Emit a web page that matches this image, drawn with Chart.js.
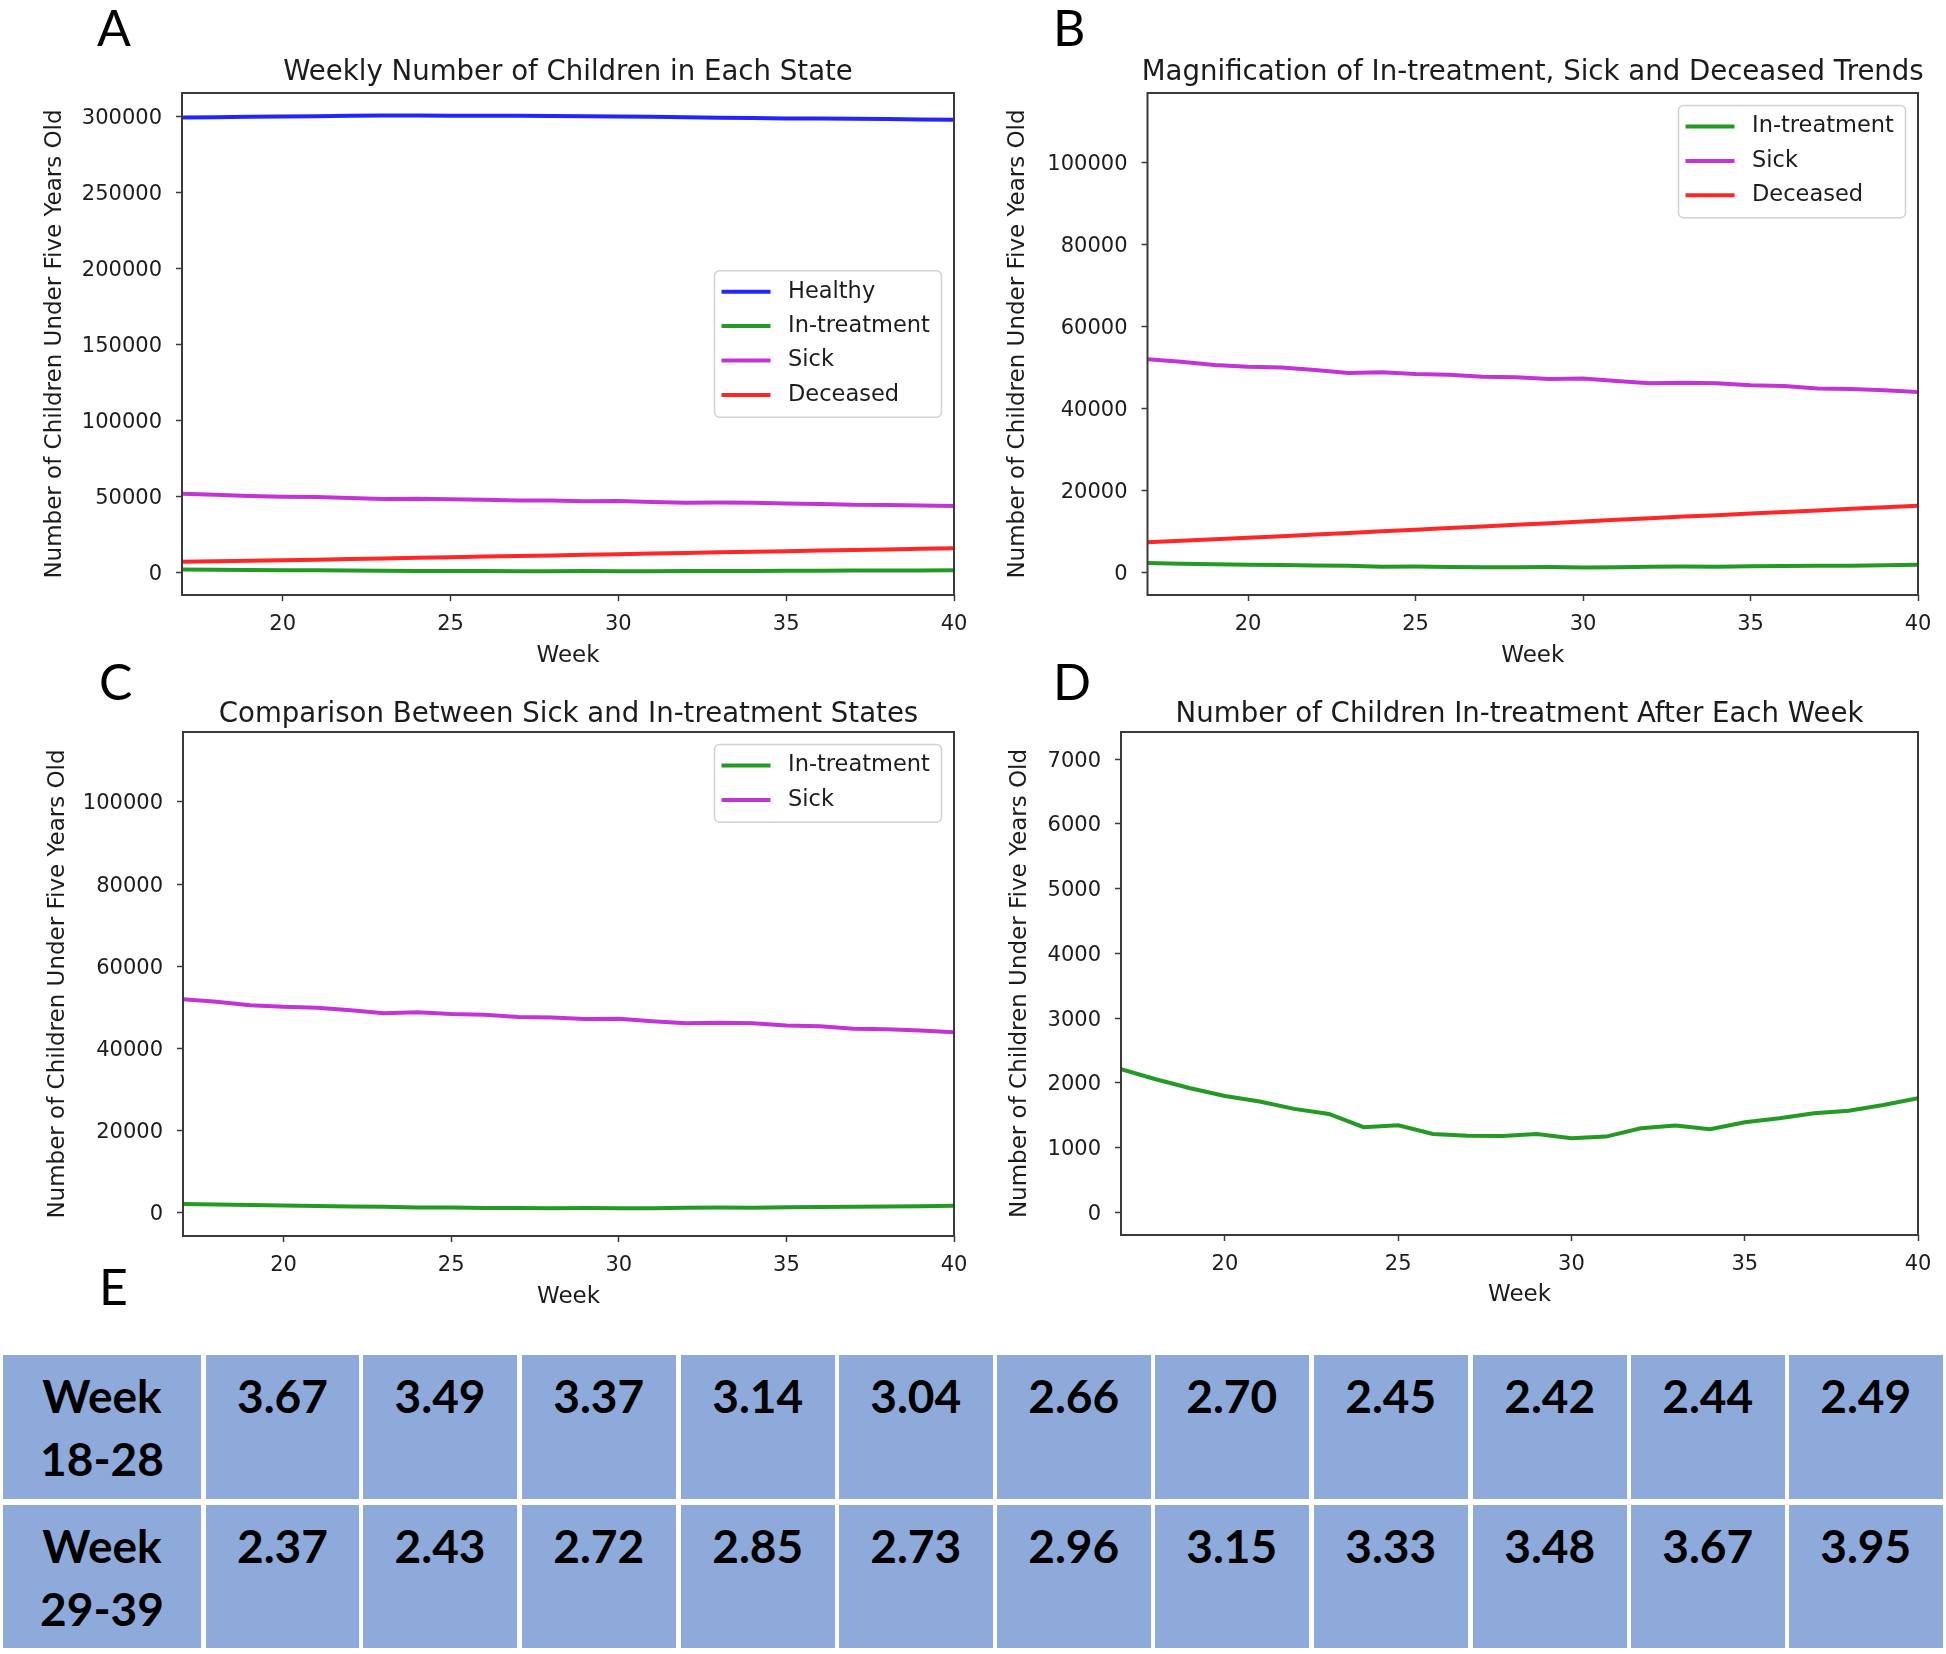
<!DOCTYPE html>
<html>
<head>
<meta charset="utf-8">
<script src="https://cdn.jsdelivr.net/npm/chart.js@4/dist/chart.umd.min.js"></script>
<style>
  html, body { margin: 0; padding: 0; background: #ffffff; }
  body { width: 1946px; height: 1654px; position: relative; overflow: hidden; }
  canvas { position: absolute; }
  .letter { position: absolute; font-family: Lato, "Open Sans", sans-serif; font-size: 50px; line-height: 50px; color: #000; white-space: nowrap; }
  .cell { position: absolute; background: #8eaadb; font-family: Lato, "Open Sans", sans-serif; font-weight: bold;
          font-size: 46px; line-height: 62.7px; text-align: center; color: #000; box-sizing: border-box; padding-top: 9.8px; }
</style>
</head>
<body>
<canvas id="cA" width="990" height="700" style="left:0px;top:0px"></canvas>
<canvas id="cB" width="973" height="700" style="left:973px;top:0px"></canvas>
<canvas id="cC" width="990" height="650" style="left:0px;top:690px"></canvas>
<canvas id="cD" width="973" height="650" style="left:973px;top:690px"></canvas>
<div id="letters"></div>
<div id="table"></div>
<script>
// ---------------- DATA ----------------
const weeks = [17,18,19,20,21,22,23,24,25,26,27,28,29,30,31,32,33,34,35,36,37,38,39,40];
const healthy = [299500,299700,300000,300200,300300,300600,300850,300800,300700,300650,300650,300500,
                 300300,300100,300000,299700,299300,299100,298900,298800,298700,298500,298200,298000];
const inTreatment = [2211,2056,1917,1798,1711,1598,1520,1315,1346,1211,1185,1180,
                     1211,1145,1170,1299,1340,1284,1392,1454,1531,1571,1659,1763];
const sick = [52000,51390,50560,50150,49950,49330,48610,48820,48400,48200,47690,47580,
              47170,47270,46660,46140,46250,46140,45630,45420,44810,44700,44400,43990];
const deceased = [7300,7650,8000,8400,8750,9150,9550,9950,10350,10750,11150,11550,
                  11950,12350,12750,13150,13550,13900,14300,14700,15050,15450,15850,16200];

const weekTicks = [20,25,30,35,40];
const ticksA = [0,50000,100000,150000,200000,250000,300000];
const ticksBC = [0,20000,40000,60000,80000,100000];
const ticksD = [0,1000,2000,3000,4000,5000,6000,7000];

const panelLetters = ['A','B','C','D','E'];
const titles = ['Weekly Number of Children in Each State',
                'Magnification of In-treatment, Sick and Deceased Trends',
                'Comparison Between Sick and In-treatment States',
                'Number of Children In-treatment After Each Week'];
const yAxisTitle = 'Number of Children Under Five Years Old';
const xAxisTitle = 'Week';

const rowLabels = [['Week','18-28'],['Week','29-39']];
const ratiosRow1 = [3.67,3.49,3.37,3.14,3.04,2.66,2.70,2.45,2.42,2.44,2.49];
const ratiosRow2 = [2.37,2.43,2.72,2.85,2.73,2.96,3.15,3.33,3.48,3.67,3.95];

// ---------------- STYLE ----------------
const FONT = 'DejaVu Sans';
const TXT = '#1c1c1c';
const C_H = '#2424ff', C_T = '#239a23', C_S = '#c234d6', C_D = '#ff2626';

function pts(arr) { return weeks.map((w, i) => ({x: w, y: arr[i]})); }

const decor = {
  id: 'mplDecor',
  afterDraw(chart, args, o) {
    const ctx = chart.ctx, a = chart.chartArea;
    ctx.save();
    ctx.strokeStyle = '#3a3a3a'; ctx.lineWidth = 2;
    ctx.strokeRect(a.left, a.top, a.right - a.left, a.bottom - a.top);
    ctx.fillStyle = TXT; ctx.font = '27.6px "' + FONT + '"';
    ctx.textAlign = 'center'; ctx.textBaseline = 'middle';
    ctx.fillText(o.title, (a.left + a.right) / 2, o.titleY);
    if (o.legend) {
      const ds = chart.data.datasets;
      const n = ds.length, bw = 227, bh = n * 34.4 + 9;
      const bx = a.right - 12.5 - bw;
      const by = o.legend === 'center' ? (a.top + a.bottom) / 2 - bh / 2 : a.top + 12.5;
      ctx.beginPath(); ctx.roundRect(bx, by, bw, bh, 5);
      ctx.fillStyle = 'rgba(255,255,255,0.85)'; ctx.fill();
      ctx.strokeStyle = '#d2d2d2'; ctx.lineWidth = 1.5; ctx.stroke();
      ds.forEach((d, i) => {
        const cy = by + 21 + i * 34.4;
        ctx.strokeStyle = d.borderColor; ctx.lineWidth = 4;
        ctx.beginPath(); ctx.moveTo(bx + 7, cy); ctx.lineTo(bx + 56, cy); ctx.stroke();
        ctx.fillStyle = TXT; ctx.font = '22.5px "' + FONT + '"';
        ctx.textAlign = 'left'; ctx.textBaseline = 'middle';
        ctx.fillText(d.label, bx + 73.5, cy);
      });
    }
    ctx.restore();
  }
};

function makePanel(p) {
  const lh = 23 * 1.2;
  const padL = p.yTitleX - lh / 2 - p.cLeft;
  const yW = p.L - p.cLeft - padL;
  const padT = p.T - p.cTop;
  const padR = p.cLeft + p.cW - p.R;
  const xH = p.xTitleY + lh / 2 - p.B;
  const padB = p.cTop + p.cH - p.B - xH;
  const tickGrid = {display: true, drawOnChartArea: false, drawTicks: true, tickLength: 6, tickColor: '#3a3a3a', tickWidth: 1.5};
  return new Chart(document.getElementById(p.id), {
    type: 'line',
    data: {datasets: p.series.map(s => ({
      label: s.label, data: pts(s.data), borderColor: s.color, backgroundColor: s.color,
      borderWidth: 4, pointRadius: 0, pointHoverRadius: 0, tension: 0, fill: false
    }))},
    options: {
      responsive: false, maintainAspectRatio: false, animation: false, devicePixelRatio: 1,
      layout: {padding: {left: padL, top: padT, right: padR, bottom: padB}},
      plugins: {
        legend: {display: false}, tooltip: {enabled: false},
        mplDecor: {title: p.title, titleY: p.titleY - p.cTop, legend: p.legend}
      },
      scales: {
        x: {
          type: 'linear', min: 17, max: 40,
          afterBuildTicks: s => { s.ticks = weekTicks.map(v => ({value: v})); },
          afterFit: s => { s.height = xH; },
          grid: tickGrid, border: {display: false},
          ticks: {font: {family: FONT, size: 21}, color: TXT, padding: 10.5, maxRotation: 0, autoSkip: false, callback: v => String(v)},
          title: {display: true, text: xAxisTitle, font: {family: FONT, size: 23}, color: TXT, padding: 0}
        },
        y: {
          type: 'linear', min: p.yMin, max: p.yMax,
          afterBuildTicks: s => { s.ticks = p.yTicks.map(v => ({value: v})); },
          afterFit: s => { s.width = yW; },
          grid: tickGrid, border: {display: false},
          ticks: {font: {family: FONT, size: 21}, color: TXT, padding: 14, labelOffset: 2, autoSkip: false, callback: v => String(v)},
          title: {display: true, text: yAxisTitle, font: {family: FONT, size: 23}, color: TXT, padding: 0}
        }
      }
    },
    plugins: [decor]
  });
}

const sH = {label: 'Healthy', data: healthy, color: C_H};
const sT = {label: 'In-treatment', data: inTreatment, color: C_T};
const sS = {label: 'Sick', data: sick, color: C_S};
const sD = {label: 'Deceased', data: deceased, color: C_D};

makePanel({id: 'cA', cLeft: 0, cTop: 0, cW: 990, cH: 700, L: 182, T: 93, R: 954, B: 595,
  yTitleX: 55, xTitleY: 656.5, titleY: 73, title: titles[0], legend: 'center',
  yMin: -14500, yMax: 315600, yTicks: ticksA, series: [sH, sT, sS, sD]});
makePanel({id: 'cB', cLeft: 973, cTop: 0, cW: 973, cH: 700, L: 1147.5, T: 93, R: 1918, B: 595,
  yTitleX: 1018.5, xTitleY: 656.5, titleY: 72.5, title: titles[1], legend: 'upper',
  yMin: -5600, yMax: 117000, yTicks: ticksBC, series: [sT, sS, sD]});
makePanel({id: 'cC', cLeft: 0, cTop: 690, cW: 990, cH: 650, L: 183, T: 732, R: 954, B: 1236,
  yTitleX: 58, xTitleY: 1297.5, titleY: 714.5, title: titles[2], legend: 'upper',
  yMin: -5600, yMax: 117000, yTicks: ticksBC, series: [sT, sS]});
makePanel({id: 'cD', cLeft: 973, cTop: 690, cW: 973, cH: 650, L: 1121, T: 732, R: 1918, B: 1235,
  yTitleX: 1020.5, xTitleY: 1295, titleY: 714.5, title: titles[3], legend: null,
  yMin: -350, yMax: 7420, yTicks: ticksD, series: [sT]});

// ---------------- PANEL LETTERS ----------------
const letterPos = [[97, 2.4], [1053, 1.9], [99, 655.6], [1053, 655.6], [99, 1260.6]];
const lettersDiv = document.getElementById('letters');
panelLetters.forEach((t, i) => {
  const d = document.createElement('div');
  d.className = 'letter'; d.textContent = t;
  d.style.left = letterPos[i][0] + 'px'; d.style.top = letterPos[i][1] + 'px';
  lettersDiv.appendChild(d);
});

// ---------------- TABLE E ----------------
const tableDiv = document.getElementById('table');
const rowTops = [1355, 1505], rowHeights = [144.3, 143.3];
const colLefts = [3.3, 205.7, 363.3, 522, 681, 839, 997, 1155, 1314, 1473, 1631, 1789];
const colWidths = [197.4].concat(new Array(11).fill(153.5));
[ratiosRow1, ratiosRow2].forEach((row, r) => {
  const cells = [rowLabels[r].join('\n')].concat(row.map(v => v.toFixed(2)));
  cells.forEach((txt, c) => {
    const d = document.createElement('div');
    d.className = 'cell';
    d.style.left = colLefts[c] + 'px'; d.style.top = rowTops[r] + 'px';
    d.style.width = colWidths[c] + 'px'; d.style.height = rowHeights[r] + 'px';
    d.style.whiteSpace = 'pre';
    d.textContent = txt;
    tableDiv.appendChild(d);
  });
});
</script>
</body>
</html>
